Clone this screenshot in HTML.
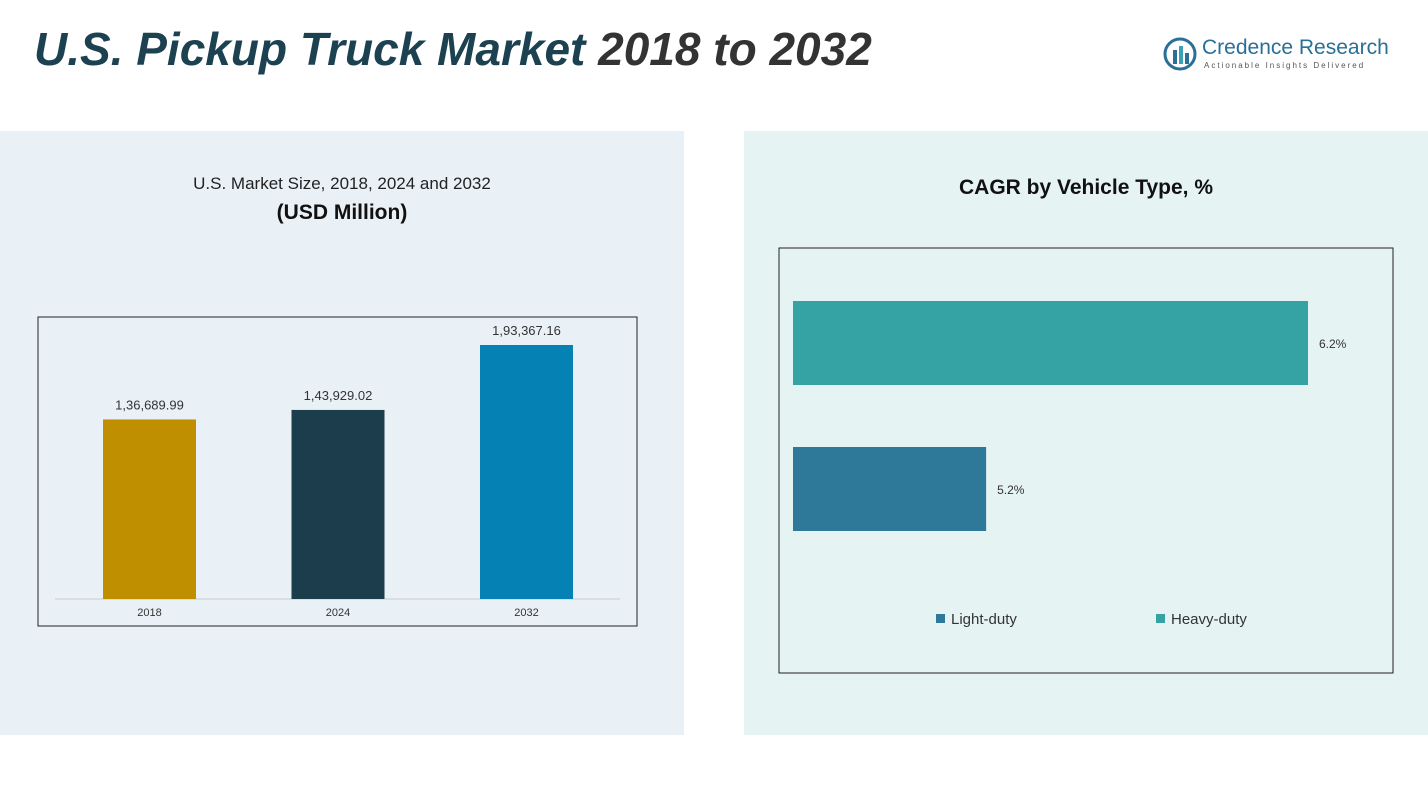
<!DOCTYPE html>
<html><head><meta charset="utf-8"><style>
body{margin:0;width:1428px;height:804px;background:#fff;position:relative;overflow:hidden;font-family:"Liberation Sans",sans-serif}
.abs{position:absolute}
</style></head><body>
<div class="abs" style="left:0;top:131px;width:684px;height:604px;background:#e9f1f7"></div>
<div class="abs" style="left:744px;top:131px;width:684px;height:604px;background:#e5f3f2"></div>
<div class="abs" style="left:34px;top:22px;font-size:46px;font-weight:bold;font-style:italic;white-space:nowrap"><span style="color:#1c4150">U.S. Pickup Truck Market </span><span style="color:#333">2018 to 2032</span></div>
<div class="abs" style="left:1162px;top:36px;width:240px;height:40px">
<svg width="36" height="36" style="position:absolute;left:0;top:0"><circle cx="18" cy="18" r="15" fill="none" stroke="#2a6f97" stroke-width="3"/><rect x="11" y="14" width="4" height="14" fill="#2a6f97"/><rect x="17" y="10" width="4" height="18" fill="#3aa0b5"/><rect x="23" y="17" width="4" height="11" fill="#2a6f97"/></svg>
<div class="abs" style="left:40px;top:0;font-size:21px;color:#2a6f97;white-space:nowrap">Credence Research</div>
<div class="abs" style="left:42px;top:25px;font-size:8px;letter-spacing:2px;color:#555;white-space:nowrap">Actionable Insights Delivered</div>
</div>
<div class="abs" style="left:0;width:684px;top:174px;text-align:center;font-size:17px;color:#222">U.S. Market Size, 2018, 2024 and 2032</div>
<div class="abs" style="left:0;width:684px;top:201px;text-align:center;font-size:21px;font-weight:bold;color:#111">(USD Million)</div>
<div class="abs" style="left:744px;width:684px;top:176px;text-align:center;font-size:21px;font-weight:bold;color:#111">CAGR by Vehicle Type, %</div>
<svg id="c" class="abs" style="left:0;top:0" width="1428" height="804"></svg>
<script>
const years=["2018","2024","2032"];
const sizes=[136689.99,143929.02,193367.16];
const sizeLabels=["1,36,689.99","1,43,929.02","1,93,367.16"];
const barColors=["#c08f00","#1b3d4c","#0581b3"];
const types=["Heavy-duty","Light-duty"];
const cagr=[6.2,5.2];
const typeColors=["#35a3a3","#2e7899"];
const NS="http://www.w3.org/2000/svg",svg=document.getElementById('c');
function mk(t,a,txt){const e=document.createElementNS(NS,t);for(const k in a)e.setAttribute(k,a[k]);if(txt!=null)e.textContent=txt;svg.appendChild(e);return e;}
let f=mk('rect',{x:38,y:317,width:599,height:309,fill:'none',stroke:'#222','stroke-width':1});

let ax=mk('line',{x1:55,x2:620,y1:599,y2:599,stroke:'#ccc'});

const y=v=>599-v*254/193367.16, bx=i=>103+i*188.5;
years.forEach((yr,i)=>{
 let r=mk('rect',{x:bx(i),y:y(sizes[i]),width:93,height:599-y(sizes[i]),fill:barColors[i]});
 
 let l=mk('text',{x:bx(i)+46.5,y:y(sizes[i])-10,'text-anchor':'middle','font-size':13,fill:'#333'},sizeLabels[i]);
 
 let t=mk('text',{x:bx(i)+46.5,y:616,'text-anchor':'middle','font-size':11,fill:'#333'},yr);
 
});
let f2=mk('rect',{x:779,y:248,width:614,height:425,fill:'none',stroke:'#222','stroke-width':1});

const xs=v=>793+(v-4.6)*515/1.6;
types.forEach((tp,i)=>{
 const yy=301+i*146;
 let r=mk('rect',{x:793,y:yy,width:xs(cagr[i])-793,height:84,fill:typeColors[i]});
 
 let l=mk('text',{x:xs(cagr[i])+11,y:yy+47,'font-size':12,fill:'#333'},cagr[i].toFixed(1)+'%');
 
});
[["Light-duty",typeColors[1],936],["Heavy-duty",typeColors[0],1156]].forEach(([n,c,x])=>{
 let s=mk('rect',{x:x,y:614,width:9,height:9,fill:c});
 
 let t=mk('text',{x:x+15,y:624,'font-size':15,fill:'#333'},n);
 
});
</script>
</body></html>
